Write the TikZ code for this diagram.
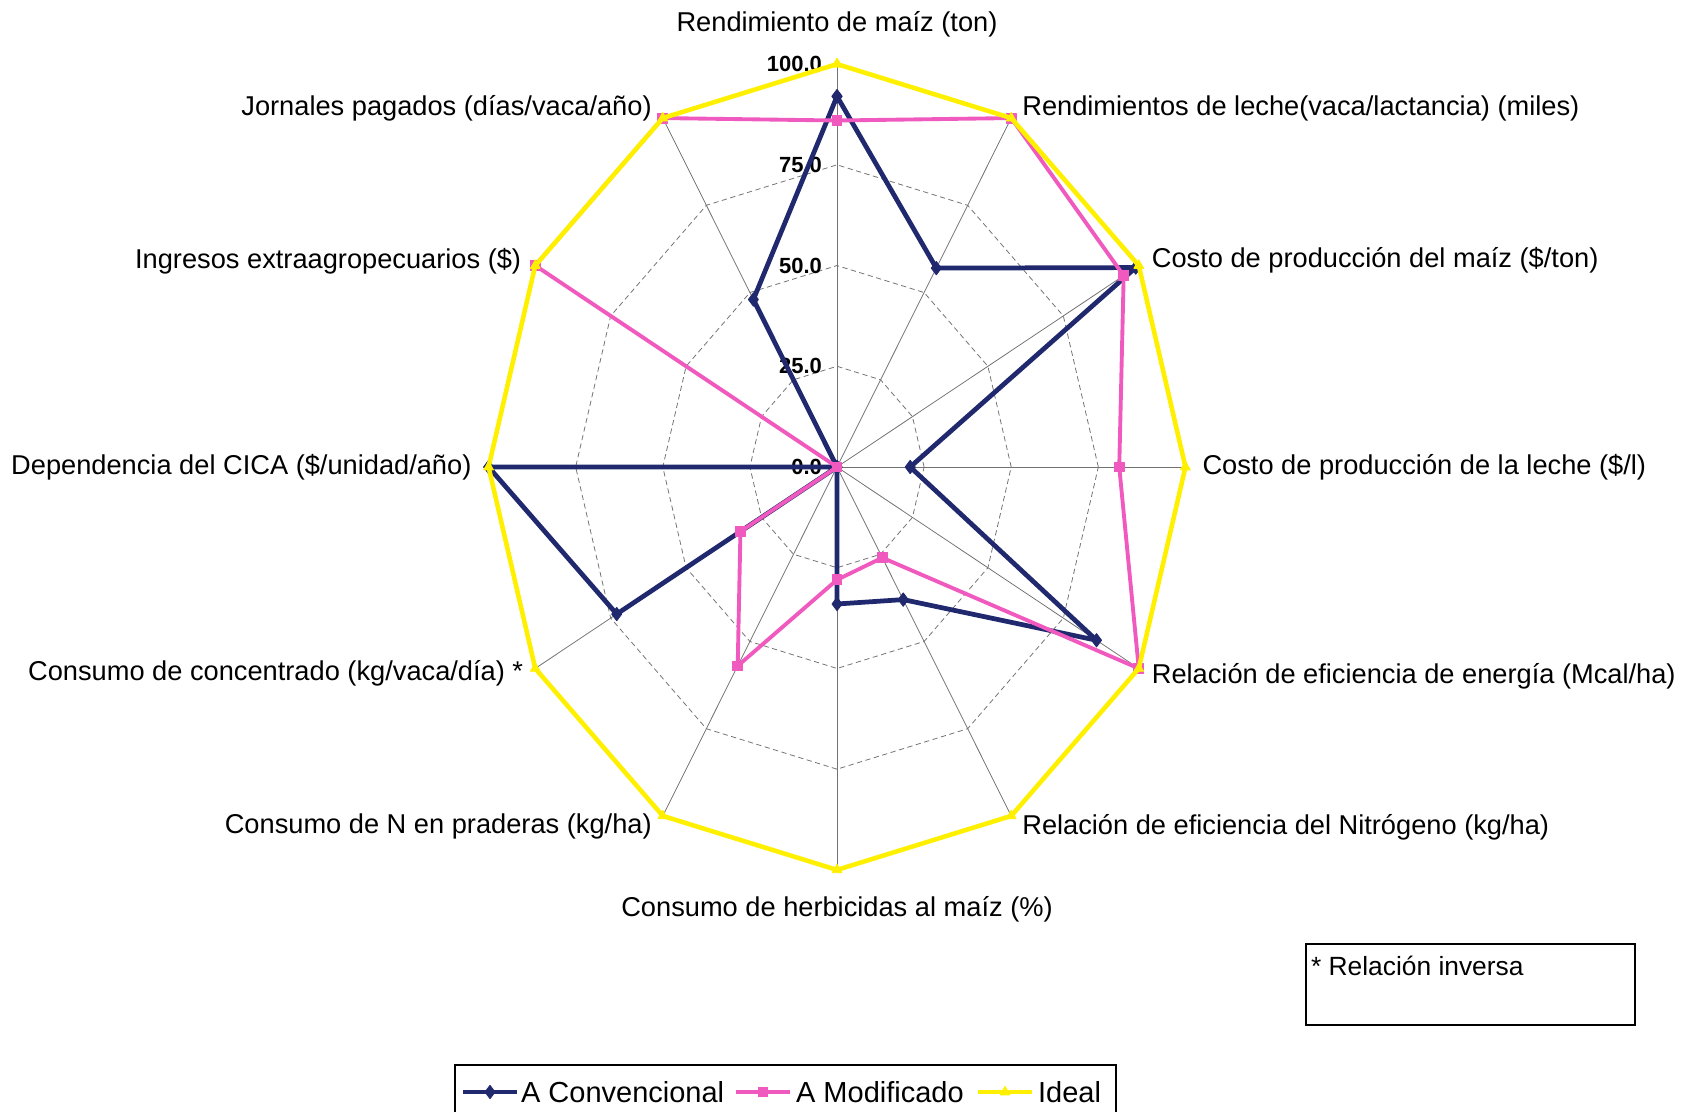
\documentclass[tikz,border=0pt]{standalone}
\usepackage{fontspec}
\setmainfont{Liberation Sans}
\usetikzlibrary{plotmarks}
\definecolor{conv}{RGB}{32,40,110}
\definecolor{modif}{RGB}{240,90,190}
\definecolor{ideal}{RGB}{255,240,0}
\tikzset{
  axlabel/.style={font=\fontsize{15.5}{18}\selectfont, inner sep=1pt},
  ticklabel/.style={font=\bfseries\fontsize{12.5}{14}\selectfont, inner sep=1pt, anchor=east, xshift=-0.26cm},
  legtext/.style={font=\fontsize{16.5}{19}\selectfont, inner sep=1pt, anchor=west},
  gridspoke/.style={gray!90!black, line width=0.45pt},
  gridring/.style={gray!90!black, line width=0.45pt, densely dashed},
  convline/.style={conv, line width=2.7pt, line join=round, mark options={line width=0.5pt, conv}, mark size=3.8pt},
  modifline/.style={modif, line width=2.2pt, line join=round, mark options={line width=0.5pt, modif}, mark size=2.8pt},
  idealline/.style={ideal, line width=2.6pt, line join=round, mark options={line width=0.5pt, ideal}, mark size=3.2pt}
}
\begin{document}
\begin{tikzpicture}[x=0.02cm, y=-0.02cm]
\useasboundingbox (0,0) rectangle (1696,1112);

\begin{scope}[shift={(837,467)}, x=0.0697cm, y=0.0806cm]
  %\draw (0,0) circle (100);
  \foreach \a in {0,30,...,330}
    \draw[gridspoke] (0,0) -- (\a:100);
  \foreach \r in {25,50,75}
    \draw[gridring] (0:\r) \foreach \a in {30,60,...,330} { -- (\a:\r) } -- cycle;

  \node[ticklabel] (t0) at (90:0) {0.0};
  \node[ticklabel] (t25) at (90:25) {25.0};
  \node[ticklabel] (t50) at (90:50) {50.0};
  \node[ticklabel] (t75) at (90:75) {75.0};
  \node[ticklabel] (t100) at (90:100) {100.0};

  \draw[convline] plot[mark=diamond*] coordinates {(90:92) (60:57) (30:99) (0:21) (-30:86) (-60:38)
    (-90:34) (-120:0) (-150:73) (180:100) (150:0) (120:48) (90:92)};
  \draw[modifline] plot[mark=square*] coordinates {(90:86) (60:100) (30:95) (0:81) (-30:100) (-60:26)
    (-90:28) (-120:57) (-150:32) (180:0) (150:100) (120:100) (90:86)};
  \draw[idealline] plot[mark=triangle*] coordinates {(90:100) (60:100) (30:100) (0:100) (-30:100) (-60:100)
    (-90:100) (-120:100) (-150:100) (180:100) (150:100) (120:100) (90:100)};

  \node[axlabel, yshift=0.8cm] (lab0) at (90:100) {Rendimiento de maíz (ton)};
  \node[axlabel, anchor=west, xshift=0.18cm, yshift=0.2cm] (lab1) at (60:100) {Rendimientos de leche(vaca/lactancia) (miles)};
  \node[axlabel, anchor=west, xshift=0.22cm, yshift=0.1cm] (lab2) at (30:100) {Costo de producción del maíz (\$/ton)};
  \node[axlabel, anchor=west, xshift=0.3cm] (lab3) at (0:100) {Costo de producción de la leche (\$/l)};
  \node[axlabel, anchor=west, xshift=0.22cm, yshift=-0.15cm] (lab4) at (-30:100) {Relación de eficiencia de energía (Mcal/ha)};
  \node[axlabel, anchor=west, xshift=0.18cm, yshift=-0.22cm] (lab5) at (-60:100) {Relación de eficiencia del Nitrógeno (kg/ha)};
  \node[axlabel, yshift=-0.78cm] (lab6) at (-90:100) {Consumo de herbicidas al maíz (\%)};
  \node[axlabel, anchor=east, xshift=-0.18cm, yshift=-0.22cm] (lab7) at (-120:100) {Consumo de N en praderas (kg/ha)};
  \node[axlabel, anchor=east, xshift=-0.2cm, yshift=-0.09cm] (lab8) at (-150:100) {Consumo de concentrado (kg/vaca/día) *};
  \node[axlabel, anchor=east, xshift=-0.3cm] (lab9) at (180:100) {Dependencia del CICA (\$/unidad/año)};
  \node[axlabel, anchor=east, xshift=-0.24cm, yshift=0.09cm] (lab10) at (150:100) {Ingresos extraagropecuarios (\$)};
  \node[axlabel, anchor=east, xshift=-0.18cm, yshift=0.2cm] (lab11) at (120:100) {Jornales pagados (días/vaca/año)};
\end{scope}

% nota
\draw[line width=1.1pt] (1306,944) rectangle (1635,1025);
\node[axlabel, font=\fontsize{15}{18}\selectfont, anchor=west] (nota) at (1309,966) {* Relación inversa};

% leyenda
\draw[line width=0.9pt] (455,1112) |- (1116,1065) -- (1116,1112);
\draw[convline] plot[mark=diamond*, mark indices={2}] coordinates {(463,1092) (490,1092) (517,1092)};
\node[legtext] (lconv) at (519,1092) {A Convencional};
\draw[modifline] plot[mark=square*, mark indices={2}] coordinates {(736,1092) (763,1092) (790,1092)};
\node[legtext] (lmodif) at (794,1092) {A Modificado};
\draw[idealline] plot[mark=triangle*, mark indices={2}] coordinates {(978,1092) (1005,1092) (1032,1092)};
\node[legtext] (lideal) at (1036,1092) {Ideal};
\end{tikzpicture}
\end{document}
